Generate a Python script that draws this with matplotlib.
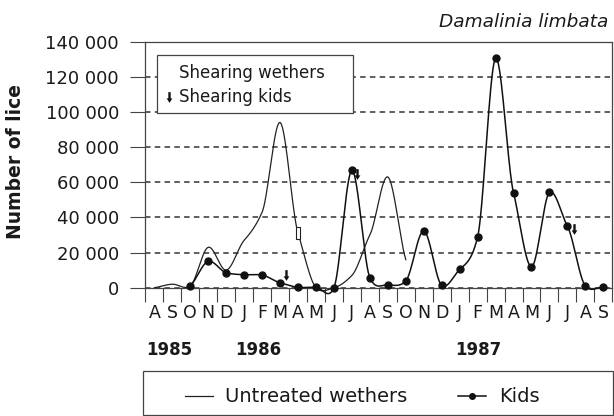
import numpy as np
import matplotlib
matplotlib.use('Agg')
import matplotlib.pyplot as plt
from matplotlib.path import Path
from matplotlib.lines import Line2D
from matplotlib.patches import Rectangle
from matplotlib.ticker import FixedLocator, FuncFormatter, NullFormatter

# ---------------- data ----------------
months = ['A', 'S', 'O', 'N', 'D', 'J', 'F', 'M', 'A', 'M', 'J', 'J', 'A',
          'S', 'O', 'N', 'D', 'J', 'F', 'M', 'A', 'M', 'J', 'J', 'A', 'S']
years = ['1985', '1986', '1987']
year_month_index = [0, 5, 17]

wethers_month = list(range(0, 15))
wethers_lice = [0, 2000, 1000, 23000, 10000, 27000, 43000, 94000, 31000,
                0, 0, 7000, 30000, 63000, 16000]

kids_month = list(range(2, 26))
kids_lice = [1000, 15000, 8500, 7400, 7200, 2800, 200, 300, 0, 66700, 5700,
             1700, 3800, 32300, 1300, 10400, 28900, 130500, 54000, 11900,
             54200, 35000, 1000, 400]

shear_wethers_month = [8.0]
shear_wethers_lice = [31300]
shear_kids_month = [7.35, 11.28, 23.38]
shear_kids_lice = [7400, 64800, 33400]

y_ticks = [0, 20000, 40000, 60000, 80000, 100000, 120000, 140000]


# ---------------- helpers ----------------
def smooth(x, y, scale=0.7, n=40):
    """Cardinal (Hermite) spline through the points, for drawing only."""
    x = np.asarray(x, float)
    y = np.asarray(y, float)
    m = np.zeros_like(y)
    m[1:-1] = (y[2:] - y[:-2]) / (x[2:] - x[:-2])
    m[0] = (y[1] - y[0]) / (x[1] - x[0])
    m[-1] = (y[-1] - y[-2]) / (x[-1] - x[-2])
    m *= scale
    xs, ys = [], []
    for i in range(len(x) - 1):
        h = x[i + 1] - x[i]
        t = np.linspace(0, 1, n, endpoint=(i == len(x) - 2))
        h00 = 2 * t**3 - 3 * t**2 + 1
        h10 = t**3 - 2 * t**2 + t
        h01 = -2 * t**3 + 3 * t**2
        h11 = t**3 - t**2
        xs.append(x[i] + t * h)
        ys.append(h00 * y[i] + h10 * h * m[i] + h01 * y[i + 1] + h11 * h * m[i + 1])
    return np.concatenate(xs), np.concatenate(ys)


W, H = 614, 416


def fx(px):
    return px / W


def fy(py):
    return 1 - py / H


AX_L, AX_R, AX_T, AX_B = 145.4, 612.3, 41.7, 287.7


def ax_x(px):
    return (px - AX_L) / (AX_R - AX_L)


def ax_y(py):
    return (AX_B - py) / (AX_B - AX_T)


arrow_marker = Path([(-0.11, 0.5), (0.11, 0.5), (0.11, -0.08), (0.27, -0.08),
                     (0.0, -0.5), (-0.27, -0.08), (-0.11, -0.08), (-0.11, 0.5)],
                    [Path.MOVETO] + [Path.LINETO] * 6 + [Path.CLOSEPOLY])
rect_marker = Path([(-0.17, -0.5), (0.17, -0.5), (0.17, 0.5), (-0.17, 0.5), (-0.17, -0.5)],
                   [Path.MOVETO] + [Path.LINETO] * 3 + [Path.CLOSEPOLY])

plt.rcParams['font.family'] = ['DejaVu Sans']
INK = '#1a1a1a'
SPINE = '#444444'

fig = plt.figure(figsize=(6.14, 4.16), dpi=100)
ax = fig.add_axes([fx(AX_L), fy(AX_B), fx(AX_R) - fx(AX_L), fy(AX_T) - fy(AX_B)])

ax.set_xlim(-0.5, len(months) - 0.5)
ax.set_ylim(0, 140000)

# x axis: ticks at month boundaries, labels at month centres
ax.xaxis.set_major_locator(FixedLocator(np.arange(-0.5, len(months), 1.0)))
ax.xaxis.set_major_formatter(NullFormatter())
ax.xaxis.set_minor_locator(FixedLocator(np.arange(len(months))))
ax.xaxis.set_minor_formatter(FuncFormatter(lambda v, p: months[int(round(v))]))
ax.tick_params(axis='x', which='major', direction='out', length=10, width=0.8, color=SPINE)
ax.tick_params(axis='x', which='minor', length=0, pad=12, labelsize=12.5, labelcolor=INK)

ax.yaxis.set_major_locator(FixedLocator(y_ticks))
ax.yaxis.set_major_formatter(FuncFormatter(lambda v, p: f"{int(v):,}".replace(',', ' ')))
ax.tick_params(axis='y', direction='out', length=11, width=0.8, color=SPINE,
               pad=8, labelsize=13, labelcolor=INK)

ax.yaxis.grid(True, linestyle=(0, (3.6, 2.8)), linewidth=1.1, color='#333333')
ax.set_axisbelow(True)
for s in ax.spines.values():
    s.set_color(SPINE)
    s.set_linewidth(0.9)

# curves
wx, wy = smooth(wethers_month, wethers_lice)
kx, ky = smooth(kids_month, kids_lice)
ax.plot(wx, wy, color='#222222', lw=0.9, clip_on=False, zorder=3)
ax.plot(kx, ky, color='#111111', lw=1.1, clip_on=False, zorder=4)
ax.plot(kids_month, kids_lice, 'o', color='#111111', ms=5, clip_on=False, zorder=5)

ax.plot(shear_wethers_month, shear_wethers_lice, ls='none', marker=rect_marker,
        ms=8.4, mfc='white', mec='#222222', mew=0.8, zorder=6)
ax.plot(shear_kids_month, shear_kids_lice, ls='none', marker=arrow_marker,
        ms=7.7, color='#111111', mew=0, zorder=6)

# inner key box
ax.add_patch(Rectangle((ax_x(157.3), ax_y(113.3)), ax_x(353.3) - ax_x(157.3),
                       ax_y(55) - ax_y(113.3), transform=ax.transAxes,
                       facecolor='white', edgecolor=SPINE, lw=0.9, zorder=2))
key = ax.legend(handles=[Line2D([], [], ls='none'),
                         Line2D([], [], ls='none', marker=arrow_marker, ms=7.7,
                                color='#111111', mew=0)],
                labels=['Shearing wethers', 'Shearing kids'],
                loc='upper left', bbox_to_anchor=(ax_x(164), ax_y(64.5)),
                frameon=False, borderpad=0, borderaxespad=0,
                handlelength=0.6, handletextpad=0.3, labelspacing=0.36,
                fontsize=12)
for t in key.get_texts():
    t.set_color(INK)

# year labels
for lab, idx, off in zip(years, year_month_index, [0.07, -0.01, 0.24]):
    ax.text(idx - 0.5 + off, ax_y(355), lab, transform=ax.get_xaxis_transform(),
            ha='left', va='baseline', fontsize=12, fontweight='bold', color=INK)

# y label and title
fig.text(fx(16), fy(161.5), 'Number of lice', rotation=90, ha='center', va='center',
         fontsize=13.5, fontweight='bold', color=INK)
fig.text(fx(608.5), fy(27.3), 'Damalinia limbata', ha='right', va='baseline',
         fontsize=13.3, style='italic', color=INK)

# bottom legend
fig.add_artist(Rectangle((fx(143.3), fy(415)), fx(612.7) - fx(143.3), fy(371) - fy(415),
                         transform=fig.transFigure, fill=False, edgecolor=SPINE, lw=0.9))
leg = fig.legend(handles=[Line2D([], [], color='#222222', lw=0.9),
                          Line2D([], [], color='#111111', lw=1.1, marker='o', ms=4)],
                 labels=['Untreated wethers', 'Kids'], loc='center',
                 bbox_to_anchor=(fx(362.2), fy(397)), ncol=2, frameon=False,
                 fontsize=14, handlelength=1.44, handletextpad=0.65, columnspacing=2.62)
for t in leg.get_texts():
    t.set_color(INK)

fig.savefig('out.png', dpi=100)
